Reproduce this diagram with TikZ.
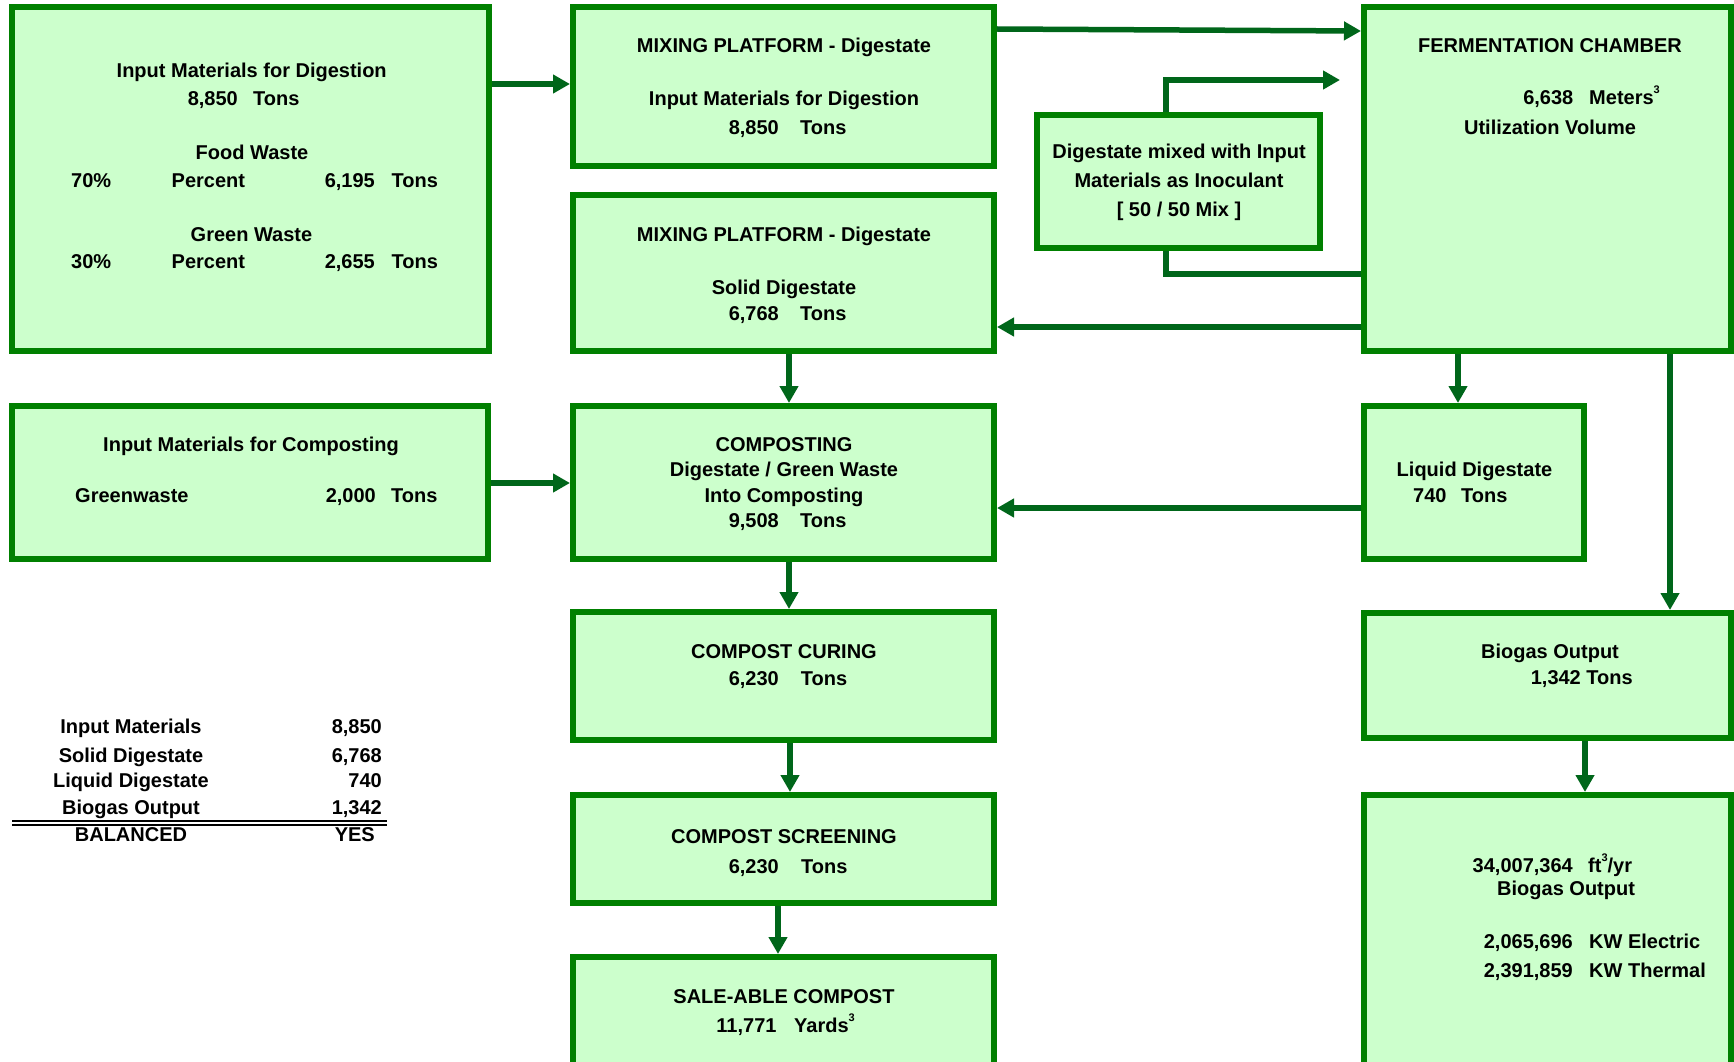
\documentclass[tikz,border=0pt]{standalone}
\usepackage{fontspec}
\setmainfont{Liberation Sans}
\usetikzlibrary{arrows.meta,calc}
\definecolor{boxfill}{HTML}{CCFFCC}
\definecolor{boxline}{HTML}{008000}
\definecolor{arrline}{HTML}{00661A}
\newcommand\mytext[5]{\node[lbl,anchor=#4] (#1) at (#2,#3) {#5};}
\newcommand\supthree{\raisebox{11pt}{\fontsize{11}{11}\selectfont 3}}
\begin{document}
\begin{tikzpicture}[x=1pt,y=-1pt]
\tikzset{
  box/.style={draw=boxline, fill=boxfill, line width=6pt, inner sep=0pt, outer sep=3pt},
  arr/.style={draw=arrline, line width=5.5pt, -{Triangle[length=17pt,width=18pt]}},
  conn/.style={draw=arrline, line width=5.5pt},
  lbl/.style={inner sep=0pt, font=\fontsize{20}{24}\selectfont\bfseries, text=black}
}
\useasboundingbox (0,0) rectangle (1734,1062);
\clip (0,0) rectangle (1734,1062);

% boxes
\node[box,minimum width=477pt,minimum height=344pt] (b1) at (250.5,179) {};
\node[box,minimum width=421pt,minimum height=159pt] (b2) at (783.5,86.5) {};
\node[box,minimum width=421pt,minimum height=156pt] (b3) at (783.5,273) {};
\node[box,minimum width=367pt,minimum height=344pt] (ch) at (1547.5,179) {};
\node[box,minimum width=283pt,minimum height=133pt] (dm) at (1178.5,181.5) {};
\node[box,minimum width=476pt,minimum height=153pt] (b4) at (250,482.5) {};
\node[box,minimum width=421pt,minimum height=153pt] (cp) at (783.5,482.5) {};
\node[box,minimum width=220pt,minimum height=153pt] (lq) at (1474,482.5) {};
\node[box,minimum width=421pt,minimum height=128pt] (cu) at (783.5,676) {};
\node[box,minimum width=421pt,minimum height=108pt] (sc) at (783.5,849) {};
\node[box,minimum width=421pt,minimum height=130pt] (sa) at (783.5,1022) {};
\node[box,minimum width=367pt,minimum height=125pt] (bo) at (1547.5,675.5) {};
\node[box,minimum width=367pt,minimum height=302pt] (bg) at (1547.5,946) {};
\coordinate (fe) at (1340,80);

% connectors
\draw[arr] (b1.east |- 0,84) -- (b2.west |- 0,84);
\draw[arr] (b2.east |- 0,29) -- (ch.west |- 0,31);
\draw[conn] (ch.west |- 0,274) -| (dm.south -| 1166,0);
\draw[arr] (dm.north -| 1166,0) |- (fe);
\draw[arr] (ch.west |- 0,327) -- (b3.east |- 0,327);
\draw[arr] (b3.south -| 789,0) -- (cp.north -| 789,0);
\draw[arr] (b4.east |- 0,483) -- (cp.west |- 0,483);
\draw[arr] (lq.west |- 0,508) -- (cp.east |- 0,508);
\draw[arr] (ch.south -| 1458,0) -- (lq.north -| 1458,0);
\draw[arr] (ch.south -| 1670,0) -- (bo.north -| 1670,0);
\draw[arr] (cp.south -| 789,0) -- (cu.north -| 789,0);
\draw[arr] (cu.south -| 790,0) -- (sc.north -| 790,0);
\draw[arr] (sc.south -| 778,0) -- (sa.north -| 778,0);
\draw[arr] (bo.south -| 1585,0) -- (bg.north -| 1585,0);

% box 1
\mytext{a1}{251.7}{78}{base}{Input Materials for Digestion}
\mytext{a2}{238}{106}{base east}{8,850}
\mytext{a3}{253}{106}{base west}{Tons}
\mytext{a4}{252}{159}{base}{Food Waste}
\mytext{a5}{71}{187}{base west}{70\%}
\mytext{a6}{171.5}{187}{base west}{Percent}
\mytext{a7}{375}{187}{base east}{6,195}
\mytext{a8}{391.5}{187}{base west}{Tons}
\mytext{a9}{251.5}{241}{base}{Green Waste}
\mytext{a10}{71}{268}{base west}{30\%}
\mytext{a11}{171.5}{268}{base west}{Percent}
\mytext{a12}{375}{268}{base east}{2,655}
\mytext{a13}{391.5}{268}{base west}{Tons}

% box 2
\mytext{c1}{784}{53}{base}{MIXING PLATFORM - Digestate}
\mytext{c2}{784}{106}{base}{Input Materials for Digestion}
\mytext{c3}{779}{135}{base east}{8,850}
\mytext{c4}{800}{135}{base west}{Tons}

% box 3
\mytext{d1}{784}{241}{base}{MIXING PLATFORM - Digestate}
\mytext{d2}{784}{294}{base}{Solid Digestate}
\mytext{d3}{779}{320}{base east}{6,768}
\mytext{d4}{800}{320}{base west}{Tons}

% chamber
\mytext{e1}{1550}{53}{base}{FERMENTATION CHAMBER}
\mytext{e2}{1573.5}{105}{base east}{6,638}
\mytext{e3}{1589}{105}{base west}{Meters\supthree}
\mytext{e4}{1550}{135}{base}{Utilization Volume}

% digestate mixed
\mytext{f1}{1179}{158}{base}{Digestate mixed with Input}
\mytext{f2}{1179}{187}{base}{Materials as Inoculant}
\mytext{f3}{1179}{216}{base}{[ 50 / 50 Mix ]}

% box 4
\mytext{g1}{251}{451}{base}{Input Materials for Composting}
\mytext{g2}{75}{502}{base west}{Greenwaste}
\mytext{g3}{376}{502}{base east}{2,000}
\mytext{g4}{391}{502}{base west}{Tons}

% composting
\mytext{h1}{784}{451}{base}{COMPOSTING}
\mytext{h2}{784}{476}{base}{Digestate / Green Waste}
\mytext{h3}{784}{502}{base}{Into Composting}
\mytext{h4}{779}{527}{base east}{9,508}
\mytext{h5}{800}{527}{base west}{Tons}

% liquid
\mytext{i1}{1474.5}{476}{base}{Liquid Digestate}
\mytext{i2}{1413}{502}{base west}{740}
\mytext{i3}{1461}{502}{base west}{Tons}

% curing
\mytext{j1}{784}{658}{base}{COMPOST CURING}
\mytext{j2}{779}{685}{base east}{6,230}
\mytext{j3}{800.7}{685}{base west}{Tons}

% screening
\mytext{k1}{784}{843}{base}{COMPOST SCREENING}
\mytext{k2}{779}{873}{base east}{6,230}
\mytext{k3}{801}{873}{base west}{Tons}

% sale-able
\mytext{l1}{784}{1003}{base}{SALE-ABLE COMPOST}
\mytext{l2}{776.7}{1032}{base east}{11,771}
\mytext{l3}{794}{1032}{base west}{Yards\supthree}

% biogas output
\mytext{m1}{1550}{658}{base}{Biogas Output}
\mytext{m2}{1530.6}{684}{base west}{1,342 Tons}

% biogas energy
\mytext{n1}{1573}{872}{base east}{34,007,364}
\mytext{n2}{1588}{872}{base west}{ft\supthree/yr}
\mytext{n3}{1497}{895}{base west}{Biogas Output}
\mytext{n4}{1573}{948}{base east}{2,065,696}
\mytext{n5}{1589}{948}{base west}{KW Electric}
\mytext{n6}{1573}{977}{base east}{2,391,859}
\mytext{n7}{1589}{977}{base west}{KW Thermal}

% summary
\mytext{s1}{131}{733}{base}{Input Materials}
\mytext{s2}{382}{733}{base east}{8,850}
\mytext{s3}{131}{762}{base}{Solid Digestate}
\mytext{s4}{382}{762}{base east}{6,768}
\mytext{s5}{131}{787}{base}{Liquid Digestate}
\mytext{s6}{382}{787}{base east}{740}
\mytext{s7}{131}{814}{base}{Biogas Output}
\mytext{s8}{382}{814}{base east}{1,342}
\draw[line width=1.6pt] (12,821) -- (387,821);
\draw[line width=1.6pt] (12,824.8) -- (387,824.8);
\mytext{s9}{131}{841}{base}{BALANCED}
\mytext{s10}{375}{841}{base east}{YES}
\end{tikzpicture}
\end{document}
